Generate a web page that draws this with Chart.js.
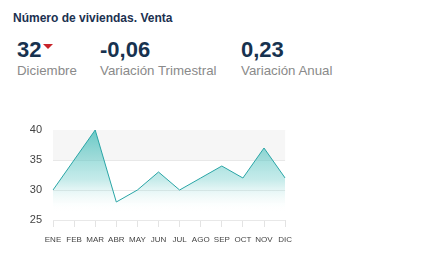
<!DOCTYPE html>
<html>
<head>
<meta charset="utf-8">
<script src="https://cdn.jsdelivr.net/npm/chart.js@4"></script>
<style>
  body { margin: 0; width: 437px; height: 264px; background: #fff; font-family: "Liberation Sans", Arial, sans-serif; position: relative; overflow: hidden; }
  .title { position: absolute; left: 13px; top: 11px; font-size: 12px; font-weight: bold; color: #1c3150; }
  .kpi { position: absolute; top: 37px; }
  .kpi .val { font-size: 22px; font-weight: bold; color: #17324f; line-height: 26px; }
  .kpi .lab { font-size: 13.3px; color: #8a8a8a; line-height: 16px; margin-top: 0px; }
  .tri { display: inline-block; width: 0; height: 0; border-left: 5px solid transparent; border-right: 5px solid transparent; border-top: 5px solid #c8242b; vertical-align: top; margin-top: 7px; margin-left: 2px; }
  #wrap { position: absolute; left: 0; top: 110px; width: 300px; height: 145px; }
</style>
</head>
<body>
<div class="title">Número de viviendas. Venta</div>
<div class="kpi" style="left:17px"><div class="val">32<span class="tri"></span></div><div class="lab">Diciembre</div></div>
<div class="kpi" style="left:100px"><div class="val">-0,06</div><div class="lab">Variación Trimestral</div></div>
<div class="kpi" style="left:241px"><div class="val">0,23</div><div class="lab">Variación Anual</div></div>
<div id="wrap"><canvas id="chart"></canvas></div>
<script>
var months = ['ENE','FEB','MAR','ABR','MAY','JUN','JUL','AGO','SEP','OCT','NOV','DIC'];
var values = [30, 35, 40, 28, 30, 33, 30, 32, 34, 32, 37, 32];
var yTicks = [25, 30, 35, 40];

// light band between 35 and 40
var bandPlugin = {
  id: 'band',
  beforeDatasetsDraw: function(chart) {
    var y = chart.scales.y, a = chart.chartArea, ctx = chart.ctx;
    ctx.save();
    ctx.fillStyle = '#f6f6f6';
    var t = y.getPixelForValue(40), b = y.getPixelForValue(35);
    ctx.fillRect(a.left, t, a.right - a.left, b - t);
    ctx.restore();
  }
};

new Chart(document.getElementById('chart'), {
  type: 'line',
  data: {
    labels: months,
    datasets: [{
      data: values,
      borderColor: '#2aa5a6',
      borderWidth: 1,
      pointRadius: 0,
      tension: 0,
      fill: 'start',
      backgroundColor: function(c) {
        var a = c.chart.chartArea;
        if (!a) return 'rgba(0,0,0,0)';
        var g = c.chart.ctx.createLinearGradient(0, a.top, 0, a.bottom);
        g.addColorStop(0, 'rgba(70,190,186,0.8)');
        g.addColorStop(0.55, 'rgba(110,205,202,0.4)');
        g.addColorStop(0.92, 'rgba(255,255,255,0)');
        return g;
      }
    }]
  },
  options: {
    responsive: true,
    maintainAspectRatio: false,
    animation: false,
    layout: { padding: { left: 0, right: 14, top: 20, bottom: 6 } },
    plugins: { legend: { display: false }, tooltip: { enabled: false } },
    scales: {
      x: {
        offset: false,
        grid: { display: true, drawOnChartArea: false, drawTicks: true, tickLength: 7, color: '#e3e3e3' },
        border: { display: false },
        ticks: { color: '#444', font: { family: 'Liberation Sans', size: 8 }, maxRotation: 0, autoSkip: false, padding: 8 },
        afterFit: function(s) { s.height = 29; }
      },
      y: {
        min: 25, max: 40,
        afterBuildTicks: function(s) { s.ticks = yTicks.map(function(v) { return { value: v }; }); },
        grid: { color: '#e8e8e8', drawTicks: false },
        border: { display: false },
        ticks: { color: '#444', font: { family: 'Liberation Sans', size: 11 }, padding: 11 },
        afterFit: function(s) { s.width = 53; }
      }
    }
  },
  plugins: [bandPlugin]
});
</script>
</body>
</html>
